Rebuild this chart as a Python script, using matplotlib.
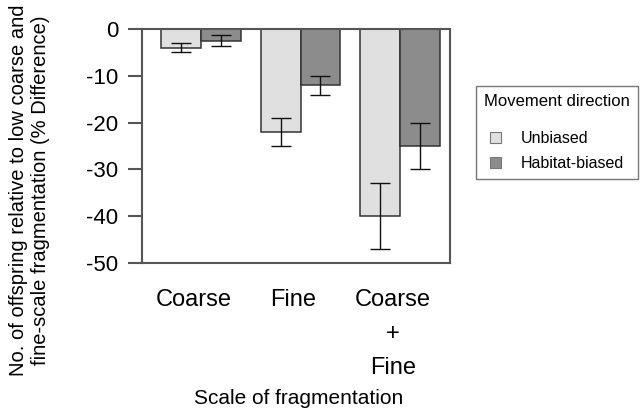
import numpy as np
import matplotlib
matplotlib.use("Agg")
import matplotlib.pyplot as plt
import matplotlib.transforms as mtransforms

plt.rcParams['font.family'] = ['Liberation Sans', 'DejaVu Sans']

# data
groups = ['Coarse', 'Fine', 'Coarse\n+\nFine']
series = ['Unbiased', 'Habitat-biased']
unbiased = [-4, -22, -40]
unbiased_err = [1, 3, 7]
habitat = [-2.5, -12, -25]
habitat_err = [1.2, 2, 5]
yticks = [0, -10, -20, -30, -40, -50]

fig = plt.figure(figsize=(6.44, 4.12), dpi=100)
ax = fig.add_axes([0.2205, 0.3617, 0.4783, 0.5679])

x = np.arange(len(groups))
w = 0.4
err_kw = dict(ecolor='#111111', elinewidth=1.0, capsize=7, capthick=1.0)
ax.bar(x - w / 2, unbiased, w, yerr=unbiased_err, color='#e0e0e0',
       edgecolor='#333333', linewidth=1.1, label=series[0], error_kw=err_kw)
ax.bar(x + w / 2, habitat, w, yerr=habitat_err, color='#8c8c8c',
       edgecolor='#333333', linewidth=1.1, label=series[1], error_kw=err_kw)

ax.set_xlim(-0.59, 2.5)
ax.set_ylim(-50, 0)
ax.set_yticks(yticks)
ax.set_yticklabels([str(t) for t in yticks], fontsize=16)
ax.set_xticks(x)
ax.set_xticklabels(groups, fontsize=17, linespacing=1.7, va='top')
ax.tick_params(axis='x', length=0, pad=19)
ax.tick_params(axis='y', length=10, width=1.5, color='#555555', pad=7)
# labels in the reference sit a little left of the group centres
shift = mtransforms.ScaledTranslation(-7 / 100, 0, fig.dpi_scale_trans)
for lab in ax.get_xticklabels():
    lab.set_transform(lab.get_transform() + shift)
for s in ax.spines.values():
    s.set_color('#555555')
    s.set_linewidth(1.5)

ax.set_xlabel('Scale of fragmentation', fontsize=15)
ax.xaxis.set_label_coords(0.51, -0.54)
ax.set_ylabel('No. of offspring relative to low coarse and\n'
              'fine-scale fragmentation (% Difference)', fontsize=14.5,
              linespacing=1.2)
ax.yaxis.set_label_coords(-0.30, 0.312)

leg = fig.legend(loc='upper left', bbox_to_anchor=(0.739, 0.791),
                 title='Movement direction', fontsize=11.5, title_fontsize=12,
                 frameon=True, fancybox=False, edgecolor='#555555',
                 handlelength=0.7, handleheight=0.7, borderpad=0.5,
                 labelspacing=0.6, handletextpad=1.2, borderaxespad=0)
leg._legend_box.sep = 16  # more room under the title, as in the reference
leg.get_frame().set_linewidth(1.0)
for h in leg.legend_handles:
    h.set_edgecolor('#777777')
    h.set_linewidth(0.8)

fig.savefig('out.png', dpi=100)
